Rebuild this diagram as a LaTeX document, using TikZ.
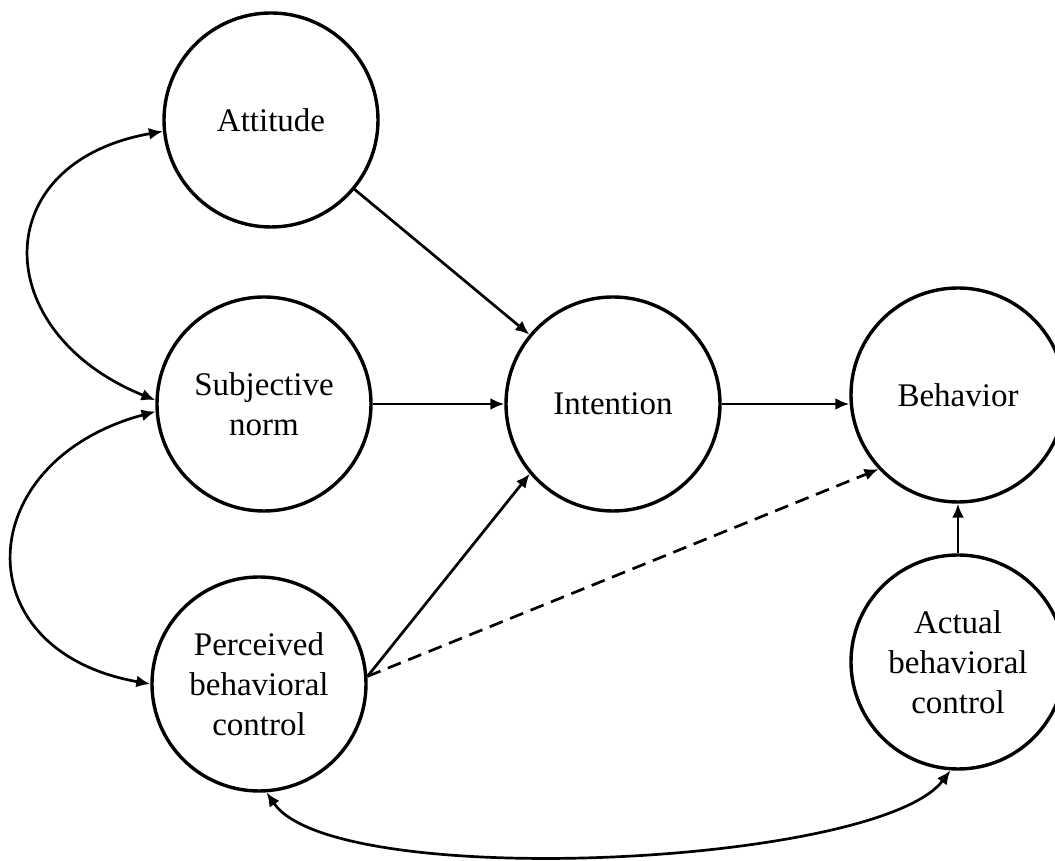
\documentclass[tikz,border=0pt]{standalone}
\usepackage{fontspec}
\setmainfont{Liberation Serif}
\usetikzlibrary{arrows.meta,positioning}

\tikzset{
  construct/.style={circle, draw, line width=1.7pt, minimum size=107pt, inner sep=0pt,
    align=center, font=\fontsize{16.5}{20}\selectfont},
  link/.style={line width=1.35pt, ->},
  both/.style={line width=1.35pt, <->},
}

\begin{document}
\begin{tikzpicture}[x=0.5pt, y=0.5pt, >={Latex[length=7pt,width=6pt]}]
  \useasboundingbox (0,0) rectangle (1055,861);
  \node [construct] (attitude) at (271,741) {Attitude};
  \node [construct] (norm) at (264,457) {Subjective\\norm};
  \node [construct] (perceived) at (259,177) {Perceived\\behavioral\\control};
  \node [construct] (intention) at (613,457) {Intention};
  \node [construct] (behavior) at (958,466) {Behavior};
  \node [construct] (actual) at (958,199) {Actual\\behavioral\\control};
  \draw[link] (attitude) -- (intention);
  \draw[link] (norm) -- (intention);
  \draw[link] (intention) -- (intention -| behavior.west);
  \draw[link] (perceived.4) -- (intention.220);
  \draw[link, dash pattern=on 7pt off 4pt] (perceived.4) -- (behavior.223);
  \draw[link] (actual) -- (behavior);
  % correlations between the exogenous factors
  \draw[both] (attitude.186) .. controls +(190:180) and +(158:180) .. (norm.178);
  \draw[both] (norm.184) .. controls +(195:191) and +(170:191) .. (perceived.180);
  \draw[both] (perceived.274) .. controls +(-56:120) and +(233:120) .. (actual.266);
\end{tikzpicture}
\end{document}
